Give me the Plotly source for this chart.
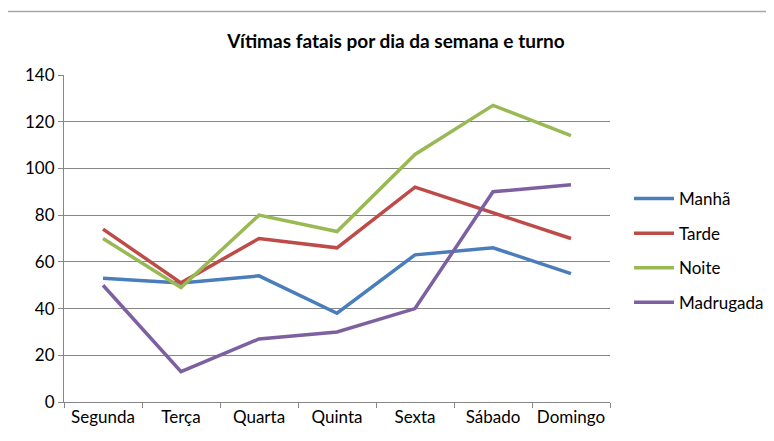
import plotly.graph_objects as go

dias = ["Segunda", "Terça", "Quarta", "Quinta", "Sexta", "Sábado", "Domingo"]
manha = [53, 51, 54, 38, 63, 66, 55]
tarde = [74, 51, 70, 66, 92, 81, 70]
noite = [70, 49, 80, 73, 106, 127, 114]
madrugada = [50, 13, 27, 30, 40, 90, 93]
y_ticks = [0, 20, 40, 60, 80, 100, 120, 140]

series = [
    ("Manhã", manha, "#4A7EBB"),
    ("Tarde", tarde, "#BE4B48"),
    ("Noite", noite, "#98B954"),
    ("Madrugada", madrugada, "#7D60A0"),
]

O = 8  # page body margin
W, H = 774 - O, 441 - O
L, R, T, B = 64 - O, 610 - O, 75 - O, 402 - O

fig = go.Figure()
for name, vals, col in series:
    fig.add_trace(go.Scatter(x=dias, y=vals, mode="lines", name=name, legendgroup=name,
                             line=dict(color=col, width=3.5)))

def px(x):
    return (x - O - L) / (R - L)

def py(y):
    return (B - (y - O)) / (B - T)

shapes = [
    dict(type="line", xref="paper", yref="paper", x0=px(5), x1=px(790), y0=py(11.5), y1=py(11.5),
         line=dict(color="#A6A6A6", width=1.5)),
]

fig.update_layout(
    width=W, height=H,
    margin=dict(l=L, r=W - R, t=T, b=H - B, autoexpand=False),
    paper_bgcolor="white", plot_bgcolor="white",
    font=dict(family="Lato, Calibri, sans-serif", size=17, color="black"),
    title=dict(text="<b>Vítimas fatais por dia da semana e turno</b>",
               xref="paper", x=px(396), xanchor="center",
               yref="container", y=1 - (41 - O) / H, yanchor="middle",
               font=dict(size=19, family="Lato, sans-serif", color="black")),
    showlegend=True,
    legend=dict(x=px(629), xanchor="left", y=py(181), yanchor="top",
                font=dict(size=17), tracegroupgap=9.5, itemwidth=40,
                bgcolor="rgba(0,0,0,0)"),
    shapes=shapes,
)
fig.update_xaxes(type="category", showgrid=False, showline=True, linecolor="#868686",
                 linewidth=1, ticks="outside", tickson="boundaries", ticklen=5,
                 tickcolor="#868686", tickfont=dict(size=17), range=[-0.5, 6.5],
                 tickangle=0, automargin=False)
fig.update_yaxes(range=[0, 140], tickvals=y_ticks, showgrid=True, gridcolor="#868686",
                 gridwidth=1, showline=True, linecolor="#868686", linewidth=1,
                 ticks="outside", ticklen=5, tickcolor="#868686", zeroline=False,
                 tickfont=dict(size=17), automargin=False)

fig.write_html("out.html")
